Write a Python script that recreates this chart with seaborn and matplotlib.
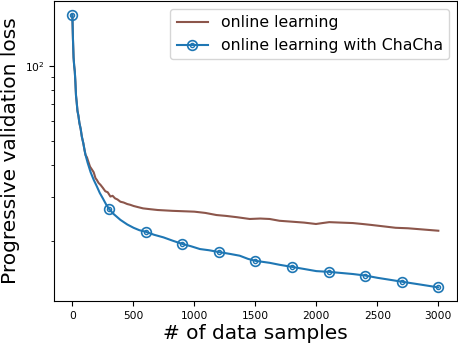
import numpy as np
import pandas as pd
import matplotlib
matplotlib.use('Agg')
import matplotlib.pyplot as plt
import seaborn as sns
from matplotlib.legend_handler import HandlerTuple

# values (log-scale loss vs number of samples)
base_x = [0, 5, 10, 15, 20, 25, 30, 35, 42, 50, 58, 68, 78, 90, 100, 108]
base_y = [160, 128, 108, 100, 95, 86, 76, 72, 66, 63, 59, 56, 52, 49, 46, 44]

online_x = base_x + [120, 130, 145, 160, 175, 190, 200, 215, 231, 250, 270, 290, 312,
                     330, 350, 370, 394, 420, 450, 475, 502, 540, 580, 638, 700, 760,
                     820, 910, 1000, 1090, 1182, 1260, 1350, 1454, 1540, 1617, 1698,
                     1800, 1900, 1997, 2050, 2106, 2200, 2300, 2378, 2450, 2550, 2650,
                     2750, 2850, 2950, 3000]
online_y = base_y + [43, 41.5, 39.5, 38.5, 37.5, 35.5, 35, 34, 33.4, 32.5, 31.5, 31.2, 30,
                     30.2, 29.5, 29.2, 28.6, 28.4, 28, 27.8, 27.5, 27.2, 26.9, 26.7, 26.5,
                     26.4, 26.3, 26.2, 26.1, 25.8, 25.3, 25.1, 24.8, 24.4, 24.5, 24.4, 24.0,
                     23.8, 23.6, 23.3, 23.5, 23.7, 23.6, 23.5, 23.3, 23.1, 22.8, 22.5,
                     22.4, 22.2, 22.0, 21.9]

chacha_x = base_x + [125, 150, 175, 200, 225, 250, 275, 300, 340, 394, 450, 502, 550, 600,
                     670, 747, 820, 900, 970, 1046, 1120, 1200, 1290, 1372, 1440, 1500,
                     1617, 1700, 1800, 1900, 2000, 2100, 2200, 2300, 2400, 2500, 2600,
                     2700, 2850, 3000]
chacha_y = base_y + [41, 37.5, 35, 33, 31, 29.5, 28, 26.8, 25.5, 24.2, 23.2, 22.5, 22, 21.7,
                     21.1, 20.6, 20.0, 19.4, 19.0, 18.5, 18.3, 18.0, 17.7, 17.4, 16.9, 16.6,
                     16.3, 16.0, 15.7, 15.4, 15.1, 15.0, 14.85, 14.7, 14.5, 14.2, 13.95,
                     13.7, 13.35, 13.0]

online_df = pd.DataFrame({'samples': online_x, 'loss': online_y})
chacha_df = pd.DataFrame({'samples': chacha_x, 'loss': chacha_y})
mark_idx = [i for i, v in enumerate(chacha_x) if v % 300 == 0]

blue = '#1f77b4'
brown = '#8c564b'

fig, ax = plt.subplots(figsize=(4.58, 3.46), dpi=100)
fig.subplots_adjust(left=0.118, right=0.997, bottom=0.13, top=0.997)

sns.lineplot(data=online_df, x='samples', y='loss', ax=ax, color=brown,
             linewidth=1.5, label='online learning')
sns.lineplot(data=chacha_df, x='samples', y='loss', ax=ax, color=blue,
             linewidth=1.5, marker='o', markersize=7, markerfacecolor='none',
             markeredgecolor=blue, markeredgewidth=1.2, markevery=mark_idx,
             label='online learning with ChaCha')
dots = ax.plot(chacha_df['samples'].iloc[mark_idx], chacha_df['loss'].iloc[mark_idx],
               linestyle='none', marker='o', markersize=3, color=blue,
               markerfacecolor='none', markeredgecolor=blue, markeredgewidth=1.0)[0]

ax.set_yscale('log')
ax.set_xlabel('# of data samples', fontsize=14.5)
ax.set_ylabel('Progressive validation loss', fontsize=14.5)
ax.xaxis.set_label_coords(0.5, -0.075)
ax.yaxis.set_label_coords(-0.085, 0.5)
ax.tick_params(labelsize=7.7)

lines = ax.get_lines()
ax.legend([lines[0], (lines[1], dots)], ['online learning', 'online learning with ChaCha'],
          handler_map={tuple: HandlerTuple(ndivide=1, pad=0)},
          loc='upper right', fontsize=11.3)

fig.savefig('out.png', dpi=100)
